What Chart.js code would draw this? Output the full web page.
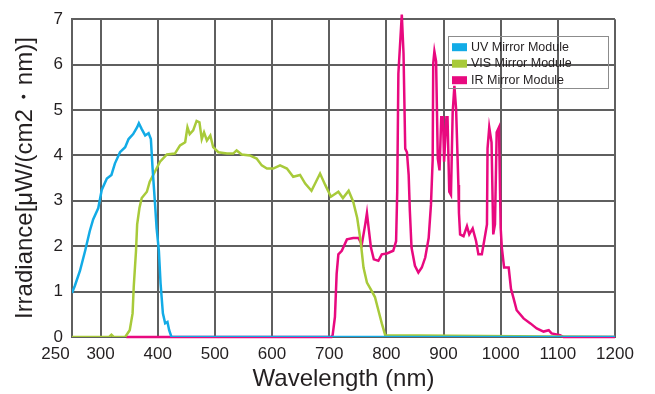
<!DOCTYPE html>
<html>
<head>
<meta charset="utf-8">
<script src="https://cdn.jsdelivr.net/npm/chart.js@4/dist/chart.umd.min.js"></script>
<style>
  html, body { margin: 0; padding: 0; background: #fff; }
</style>
</head>
<body>
<canvas id="chart" width="655" height="394"></canvas>
<script>
// tick values on the wavelength axis
const xTicks = [250, 300, 400, 500, 600, 700, 800, 900, 1000, 1100, 1200];

// UV mirror module
const uvWl  = [250, 255, 264, 273, 281, 287, 296, 302, 311, 319, 325, 334, 343, 349, 357, 364, 367, 372, 378, 384, 388, 391, 395, 398, 402, 405, 409, 413, 417, 420, 424, 1200];
const uvVal = [0.97, 1.13, 1.46, 1.9, 2.33, 2.59, 2.84, 3.24, 3.49, 3.57, 3.82, 4.07, 4.18, 4.36, 4.47, 4.62, 4.71, 4.58, 4.44, 4.49, 4.36, 3.71, 2.98, 2.4, 1.9, 1.17, 0.52, 0.3, 0.33, 0.15, 0, 0];

// VIS mirror module
const visWl  = [250, 315, 319, 323, 343, 351, 356, 358, 362, 364, 368, 372, 381, 386, 395, 404, 416, 430, 439, 448, 452, 456, 462, 468, 473, 477, 481, 486, 492, 497, 506, 521, 532, 538, 547, 561, 573, 582, 591, 602, 614, 626, 637, 649, 658, 669, 684, 693, 703, 716, 724, 734, 742, 749, 755, 760, 766, 774, 780, 786, 792, 798, 1200];
const visVal = [0, 0, 0.05, 0, 0, 0.15, 0.52, 1.1, 1.9, 2.48, 2.84, 3.06, 3.2, 3.42, 3.64, 3.86, 4.02, 4.04, 4.22, 4.29, 4.62, 4.47, 4.55, 4.76, 4.73, 4.36, 4.51, 4.33, 4.44, 4.18, 4.07, 4.04, 4.04, 4.11, 4.02, 4.0, 3.93, 3.78, 3.71, 3.71, 3.78, 3.71, 3.53, 3.57, 3.38, 3.22, 3.6, 3.35, 3.09, 3.2, 3.06, 3.22, 2.98, 2.62, 2.11, 1.53, 1.2, 1.02, 0.88, 0.59, 0.3, 0.04, 0];

// IR mirror module
const irWl  = [345, 704, 706, 710, 713, 716, 722, 731, 742, 751, 757, 763, 766, 769, 773, 778, 786, 792, 801, 812, 817, 819, 821, 827, 830, 833, 836, 839, 841, 844, 850, 856, 862, 868, 874, 878, 881, 882, 884, 887, 890, 893, 896, 899, 901, 905, 907, 910, 913, 916, 919, 922, 926, 927, 929, 935, 941, 945, 951, 957, 961, 967, 971, 976, 977, 980, 984, 987, 990, 993, 997, 1000, 1002, 1006, 1014, 1018, 1022, 1028, 1040, 1052, 1063, 1075, 1084, 1089, 1104, 1110, 1200];
const irVal = [0, 0, 0.04, 0.44, 1.39, 1.82, 1.9, 2.15, 2.18, 2.18, 2.04, 2.48, 2.73, 2.4, 1.97, 1.71, 1.68, 1.82, 1.84, 1.9, 2.11, 3.2, 5.8, 7.1, 6.25, 4.15, 4.07, 3.57, 2.8, 1.97, 1.57, 1.42, 1.53, 1.75, 2.18, 2.91, 3.9, 6.03, 6.29, 6.07, 3.93, 3.67, 4.84, 4.84, 3.86, 4.84, 4.84, 3.2, 3.13, 4.95, 5.53, 5.02, 3.35, 2.73, 2.26, 2.22, 2.44, 2.26, 2.39, 2.11, 1.82, 1.82, 2.11, 2.48, 4.15, 4.62, 4.29, 2.26, 2.48, 4.51, 4.62, 2.4, 1.97, 1.53, 1.53, 1.06, 0.88, 0.59, 0.41, 0.3, 0.19, 0.12, 0.15, 0.08, 0.04, 0, 0];

function toPoints(wl, vals) {
  return wl.map((w, i) => ({ x: w, y: vals[i] }));
}

const FONT = '"Liberation Sans", Arial, sans-serif';
const gridColor = '#5f5f5f';
const textColor = '#231f20';

// legend drawn inside the plot, transparent box like the original
const boxLegend = {
  id: 'boxLegend',
  afterDatasetsDraw(chart) {
    const ctx = chart.ctx;
    const area = chart.chartArea;
    const right = area.right - 7;
    const left = right - 160;
    const top = area.top + 17;
    ctx.save();
    ctx.strokeStyle = '#8c8c8c';
    ctx.lineWidth = 1;
    ctx.strokeRect(Math.round(left) + 0.5, Math.round(top) + 0.5, 160, 52);
    ctx.font = '12.5px ' + FONT;
    ctx.textBaseline = 'middle';
    chart.data.datasets.forEach((ds, i) => {
      const y = top + 11 + i * 16.5;
      ctx.fillStyle = ds.borderColor;
      ctx.fillRect(left + 4, y - 4, 15, 8);
      ctx.fillStyle = textColor;
      ctx.fillText(ds.label, left + 23, y);
    });
    ctx.restore();
  }
};

const ctx = document.getElementById('chart').getContext('2d');
new Chart(ctx, {
  type: 'line',
  data: {
    datasets: [
      {
        label: 'UV Mirror Module',
        data: toPoints(uvWl, uvVal),
        borderColor: '#12abe6',
        borderWidth: 2.5,
        pointRadius: 0,
        fill: false
      },
      {
        label: 'VIS Mirror Module',
        data: toPoints(visWl, visVal),
        borderColor: '#a8ca3a',
        borderWidth: 2.5,
        pointRadius: 0,
        fill: false
      },
      {
        label: 'IR Mirror Module',
        data: toPoints(irWl, irVal),
        borderColor: '#e8097f',
        borderWidth: 2.5,
        pointRadius: 0,
        fill: false,
        clip: false
      }
    ]
  },
  options: {
    responsive: false,
    animation: false,
    layout: { padding: { top: 16, right: 40, left: 0, bottom: 0 } },
    plugins: {
      legend: { display: false },
      tooltip: { enabled: false }
    },
    scales: {
      x: {
        type: 'linear',
        min: 250,
        max: 1200,
        afterBuildTicks: (scale) => { scale.ticks = xTicks.map(v => ({ value: v })); },
        afterFit: (scale) => { scale.height = 57; },
        grid: { color: gridColor, lineWidth: 2, drawTicks: false },
        border: { color: gridColor, width: 2 },
        ticks: {
          color: textColor,
          font: { family: FONT, size: 17 },
          padding: 7,
          maxRotation: 0,
          autoSkip: false,
          // first label sits left of the axis corner, as in the original
          callback: (v) => v === 250 ? '250       ' : String(v)
        },
        title: {
          display: true,
          text: 'Wavelength (nm)',
          color: textColor,
          font: { family: FONT, size: 24 },
          padding: { top: 0, bottom: 0 }
        }
      },
      y: {
        min: 0,
        max: 7,
        afterFit: (scale) => { scale.width = 72; },
        grid: { color: gridColor, lineWidth: 2, drawTicks: false },
        border: { color: gridColor, width: 2 },
        ticks: { stepSize: 1, color: textColor, font: { family: FONT, size: 17 }, padding: 9 },
        title: {
          display: true,
          text: 'Irradiance[μW/(cm2・nm)]',
          color: textColor,
          font: { family: FONT, size: 24 },
          padding: { top: 11, bottom: 0 }
        }
      }
    }
  },
  plugins: [boxLegend]
});
</script>
</body>
</html>
